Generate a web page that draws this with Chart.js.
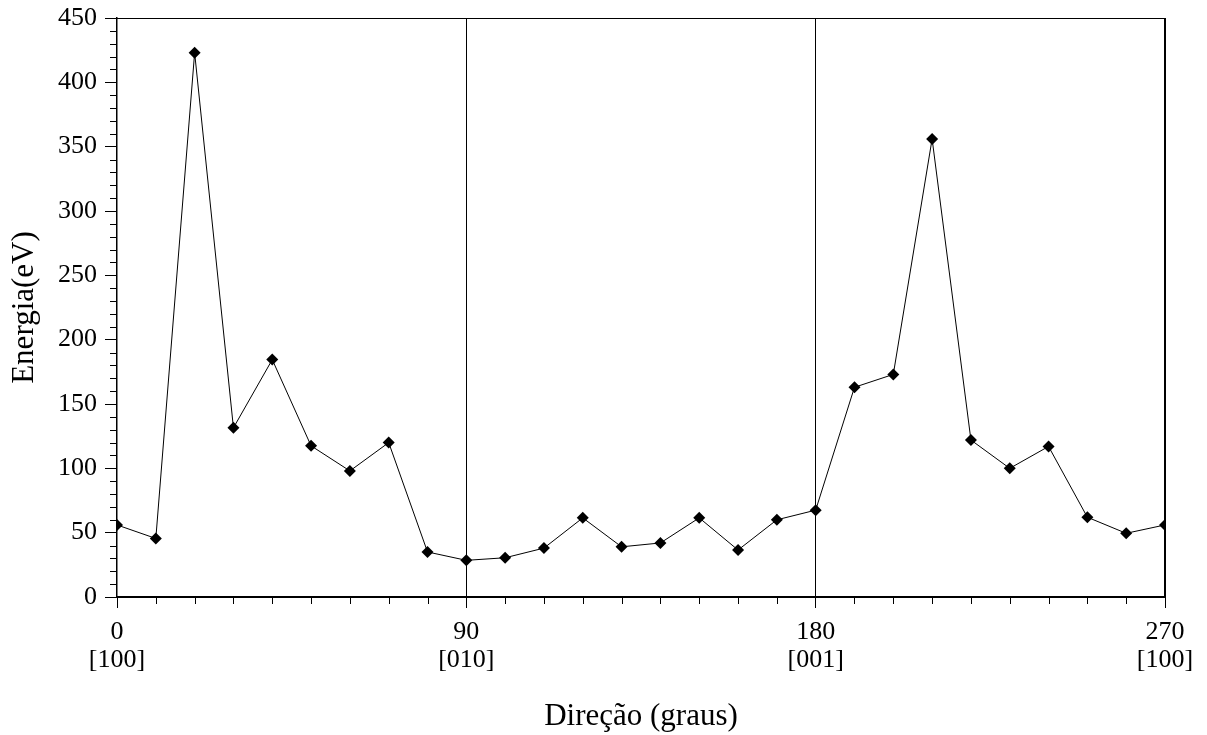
<!DOCTYPE html>
<html>
<head>
<meta charset="utf-8">
<script src="https://cdn.jsdelivr.net/npm/chart.js@4/dist/chart.umd.min.js"></script>
<style>
  html, body { margin: 0; padding: 0; background: #fff; }
  #grafico { width: 1207px; height: 735px; }
</style>
</head>
<body>
<div id="grafico"><canvas id="energia"></canvas></div>
<script>
// Energia em função da direção (graus)
const direcoes = [0, 10, 20, 30, 40, 50, 60, 70, 80, 90, 100, 110, 120, 130,
                  140, 150, 160, 170, 180, 190, 200, 210, 220, 230, 240, 250, 260, 270];
const energias = [56, 45.5, 423, 131.5, 184.5, 117.5, 98, 120, 35, 28.5, 30.5, 38, 61.5, 39,
                  42, 61.5, 36.5, 60, 67.5, 163, 173, 356, 122, 100, 117, 62, 49.5, 56];
const rotulosGraus = ['0', '90', '180', '270'];
const rotulosDirecao = ['[100]', '[010]', '[001]', '[100]'];

const fonte = 'Liberation Serif, Times New Roman, serif';

// Moldura e ticks menores (a cada 10 unidades)
const moldura = {
    id: 'moldura',
    afterDraw(chart) {
        const { ctx, chartArea: a, scales: { x, y } } = chart;
        ctx.save();
        ctx.strokeStyle = '#000';
        ctx.lineWidth = 1;
        ctx.beginPath();
        for (let v = 0; v <= 270; v += 10) {
            if (v % 90 === 0) continue;
            const px = Math.round(x.getPixelForValue(v)) + 0.5;
            ctx.moveTo(px, a.bottom);
            ctx.lineTo(px, a.bottom + 7);
        }
        for (let v = 0; v <= 450; v += 10) {
            if (v % 50 === 0) continue;
            const py = Math.round(y.getPixelForValue(v)) + 0.5;
            ctx.moveTo(a.left, py);
            ctx.lineTo(a.left - 7, py);
        }
        ctx.stroke();
        // topo
        ctx.beginPath();
        ctx.moveTo(a.left, a.top + 0.5);
        ctx.lineTo(a.right, a.top + 0.5);
        ctx.stroke();
        // direita
        ctx.lineWidth = 2;
        ctx.beginPath();
        ctx.moveTo(a.right, a.top);
        ctx.lineTo(a.right, a.bottom);
        ctx.stroke();
        ctx.restore();
    }
};

const ctx = document.getElementById('energia').getContext('2d');

new Chart(ctx, {
    type: 'line',
    data: {
        datasets: [{
            data: direcoes.map((d, i) => ({ x: d, y: energias[i] })),
            borderColor: '#000',
            borderWidth: 1,
            backgroundColor: '#000',
            pointStyle: 'rectRot',
            pointRadius: 6,
            pointBorderWidth: 0,
            tension: 0,
            fill: false
        }]
    },
    options: {
        responsive: true,
        maintainAspectRatio: false,
        animation: false,
        layout: { padding: { left: 0, right: 42, top: 18, bottom: 0 } },
        plugins: {
            legend: { display: false },
            tooltip: { enabled: false }
        },
        scales: {
            x: {
                type: 'linear',
                min: 0,
                max: 270,
                afterFit: (s) => { s.height = 138; },
                ticks: {
                    stepSize: 90,
                    color: '#000',
                    padding: 10,
                    maxRotation: 0,
                    font: { family: fonte, size: 26, lineHeight: 1.08 },
                    callback: (v) => {
                        const i = v / 90;
                        return [rotulosGraus[i], rotulosDirecao[i]];
                    }
                },
                grid: {
                    color: (c) => (c.tick && (c.tick.value === 90 || c.tick.value === 180)) ? '#000' : 'rgba(0,0,0,0)',
                    tickColor: '#000',
                    tickLength: 11,
                    lineWidth: 1
                },
                border: { display: true, color: '#000', width: 2 },
                title: {
                    display: true,
                    text: 'Direção (graus)',
                    color: '#000',
                    font: { family: fonte, size: 31 },
                    padding: { top: 0, bottom: 0 }
                }
            },
            y: {
                min: 0,
                max: 450,
                afterFit: (s) => {
                    s.width = 117;
                    s.paddingTop = 0;
                    s.paddingBottom = 0;
                },
                ticks: {
                    stepSize: 50,
                    color: '#000',
                    padding: 8,
                    font: { family: fonte, size: 26 }
                },
                grid: {
                    drawOnChartArea: false,
                    tickColor: '#000',
                    tickLength: 12
                },
                border: { display: true, color: '#000', width: 1.5 },
                title: {
                    display: true,
                    text: 'Energia(eV)',
                    color: '#000',
                    font: { family: fonte, size: 31 },
                    padding: { top: 6, bottom: 0 }
                }
            }
        }
    },
    plugins: [moldura]
});
</script>
</body>
</html>
